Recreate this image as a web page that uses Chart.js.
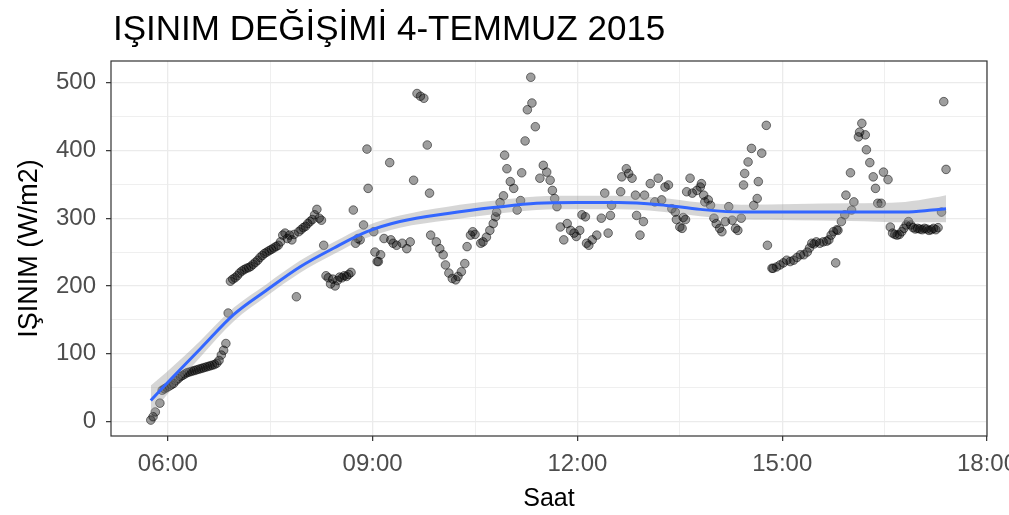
<!DOCTYPE html>
<html lang="tr">
<head>
<meta charset="UTF-8">
<title>IŞINIM DEĞİŞİMİ 4-TEMMUZ 2015</title>
<script src="https://cdn.jsdelivr.net/npm/chart.js"></script>
<style>
  html, body { margin: 0; padding: 0; background: #fff; }
</style>
</head>
<body>
<canvas id="chart" width="1009" height="515"></canvas>
<script>
// measured points (time of day, W/m2)
const obsTimes = [
  '05:45','05:47','05:49','05:53','05:55','05:57','05:59','06:01','06:03','06:05',
  '06:07','06:09','06:11','06:13','06:15','06:17','06:19','06:21','06:23','06:25',
  '06:27','06:29','06:31','06:33','06:35','06:37','06:39','06:41','06:43','06:45',
  '06:47','06:49','06:51','06:53','06:55','06:57','06:59','07:01','07:03','07:05',
  '07:07','07:09','07:11','07:13','07:15','07:17','07:19','07:21','07:23','07:25',
  '07:27','07:29','07:31','07:33','07:35','07:37','07:39','07:41','07:43','07:45',
  '07:47','07:49','07:51','07:53','07:55','07:57','07:59','08:01','08:03','08:05',
  '08:07','08:09','08:11','08:13','08:15','08:17','08:19','08:21','08:23','08:25',
  '08:27','08:29','08:31','08:33','08:35','08:37','08:39','08:41','08:43','08:45',
  '08:47','08:49','08:52','08:55','08:56','09:01','09:02','09:04','09:05','09:07',
  '09:10','09:15','09:16','09:18','09:21','09:26','09:30','09:33','09:36','09:39',
  '09:42','09:45','09:48','09:50','09:51','09:56','09:59','10:02','10:04','10:07',
  '10:10','10:13','10:15','10:18','10:21','10:23','10:26','10:28','10:30','10:35',
  '10:37','10:40','10:43','10:46','10:48','10:49','10:52','10:55','10:56','10:58',
  '11:01','11:04','11:07','11:10','11:11','11:14','11:16','11:19','11:20','11:23',
  '11:27','11:30','11:33','11:36','11:38','11:40','11:42','11:45','11:48','11:51',
  '11:54','11:57','11:59','12:02','12:04','12:07','12:08','12:10','12:13','12:17',
  '12:21','12:24','12:27','12:29','12:30','12:38','12:39','12:43','12:45','12:48',
  '12:51','12:52','12:55','12:58','12:59','13:04','13:08','13:11','13:14','13:17',
  '13:20','13:23','13:26','13:27','13:30','13:32','13:33','13:35','13:36','13:39',
  '13:41','13:45','13:48','13:49','13:51','13:52','13:55','13:57','14:00','14:02',
  '14:05','14:07','14:10','14:13','14:16','14:19','14:21','14:24','14:26','14:27',
  '14:30','14:33','14:35','14:38','14:39','14:42','14:46','14:47','14:51','14:52',
  '14:55','14:58','15:01','15:04','15:07','15:10','15:13','15:16','15:19','15:22',
  '15:24','15:26','15:28','15:30','15:33','15:36','15:39','15:41','15:43','15:45',
  '15:47','15:48','15:49','15:52','15:55','15:56','16:00','16:01','16:03','16:07',
  '16:08','16:10','16:13','16:14','16:17','16:20','16:22','16:24','16:27','16:29',
  '16:33','16:35','16:37','16:39','16:41','16:43','16:45','16:47','16:49','16:51',
  '16:53','16:55','16:57','16:59','17:01','17:03','17:05','17:07','17:09','17:11',
  '17:13','17:15','17:17','17:20','17:22','17:24'
];
const obsValues = [
  2, 7, 14, 27, 46, 48, 50, 52, 54, 56,
  60, 63, 66, 68, 70, 72, 73, 74, 75, 76,
  77, 78, 79, 80, 81, 82, 83, 84, 86, 90,
  98, 105, 115, 160, 207, 210, 212, 215, 219, 222,
  224, 226, 227, 229, 232, 235, 238, 242, 245, 248,
  250, 252, 254, 256, 258, 260, 265, 275, 278, 270,
  275, 268, 276, 184, 280, 283, 286, 288, 292, 295,
  298, 305, 313, 300, 297, 260, 215, 212, 203, 210,
  200, 208, 213, 212, 215, 214, 217, 220, 312, 263,
  270, 268, 290, 402, 344, 280, 250, 236, 236, 246,
  270, 382, 268, 263, 260, 263, 255, 265, 356, 484,
  480, 477, 408, 337, 275, 265, 255, 246, 231, 219,
  211, 209, 214, 221, 233, 258, 275, 280, 276, 263,
  265, 272, 282, 292, 302, 309, 323, 333, 393, 373,
  354, 344, 312, 326, 367, 414, 460, 508, 470, 435,
  359, 378, 368, 356, 341, 329, 317, 287, 268, 292,
  282, 278, 273, 282, 305, 302, 263, 260, 268, 275,
  300, 337, 278, 304, 319, 339, 361, 373, 366, 359,
  334, 304, 275, 295, 334, 351, 324, 359, 327, 346,
  349, 314, 309, 298, 287, 285, 301, 298, 339, 359,
  337, 341, 346, 351, 334, 324, 327, 319, 300, 292,
  285, 280, 295, 317, 297, 285, 282, 300, 349, 366,
  383, 403, 319, 329, 354, 396, 437, 260, 226, 226,
  228, 231, 234, 238, 236, 238, 242, 246, 246, 250,
  256, 263, 262, 265, 263, 265, 266, 268, 275, 280,
  234, 283, 282, 295, 305, 334, 367, 312, 324, 420,
  427, 440, 423, 401, 382, 361, 344, 322, 322, 368,
  357, 287, 278, 276, 275, 276, 280, 285, 290, 295,
  290, 286, 284, 285, 284, 283, 285, 284, 282, 283,
  285, 283, 286, 309, 472, 372
];

// loess fit and its confidence band
const fitTimes = ['05:45','05:59','06:29','06:58','07:27','07:56','08:26','08:55','09:24','10:06',
                  '10:48','11:24','12:00','12:36','13:12','13:48','14:24','15:12','16:00','16:48','17:12','17:24'];
const fitValues = [31, 56, 108, 158, 194, 228, 256, 280, 295, 307, 316, 322, 323, 323, 320, 313, 309, 309, 309, 309, 312, 314];
const fitLow    = [9, 39, 96, 148, 185, 219, 247, 271, 286, 297, 306, 312, 313, 313, 310, 303, 298, 297, 296, 294, 294, 294];
const fitHigh   = [53, 73, 120, 168, 203, 237, 265, 289, 304, 317, 326, 332, 333, 333, 330, 323, 320, 321, 322, 324, 330, 334];

const xTicks = [6, 7.5, 9, 10.5, 12, 13.5, 15, 16.5, 18];
const yTicks = [0, 50, 100, 150, 200, 250, 300, 350, 400, 450, 500];

function toHours(s) {
  const p = s.split(':').map(Number);
  return p[0] + p[1] / 60;
}
function pairs(times, vals) {
  return times.map((t, i) => ({ x: toHours(t), y: vals[i] }));
}

const FONT = '"Liberation Sans", Arial, sans-serif';
Chart.defaults.font.family = FONT;

const frame = {
  id: 'frame',
  afterDatasetsDraw(chart) {
    const a = chart.chartArea, ctx = chart.ctx;
    ctx.save();
    ctx.strokeStyle = '#333333';
    ctx.lineWidth = 1.2;
    ctx.strokeRect(a.left, a.top, a.right - a.left, a.bottom - a.top);
    ctx.restore();
  },
  afterDraw(chart) {
    const a = chart.chartArea, ctx = chart.ctx;
    ctx.save();
    ctx.fillStyle = '#000';
    ctx.textBaseline = 'alphabetic';
    ctx.font = '35px ' + FONT;
    ctx.textAlign = 'left';
    ctx.fillText('IŞINIM DEĞİŞİMİ 4-TEMMUZ 2015', 113, 40);
    ctx.font = '25px ' + FONT;
    ctx.textAlign = 'center';
    ctx.fillText('Saat', (a.left + a.right) / 2, 506);
    ctx.font = '27px ' + FONT;
    ctx.translate(37, (a.top + a.bottom) / 2);
    ctx.rotate(-Math.PI / 2);
    ctx.fillText('IŞINIM (W/m2)', 0, 0);
    ctx.restore();
  }
};

new Chart(document.getElementById('chart').getContext('2d'), {
  type: 'scatter',
  data: {
    datasets: [
      {
        type: 'line',
        data: pairs(fitTimes, fitValues),
        borderColor: '#3366FF',
        borderWidth: 3,
        pointRadius: 0,
        fill: false,
        cubicInterpolationMode: 'monotone',
        order: 0
      },
      {
        type: 'line',
        data: pairs(fitTimes, fitLow),
        borderWidth: 0,
        borderColor: 'rgba(0,0,0,0)',
        pointRadius: 0,
        fill: false,
        cubicInterpolationMode: 'monotone',
        order: 1
      },
      {
        type: 'line',
        data: pairs(fitTimes, fitHigh),
        borderWidth: 0,
        borderColor: 'rgba(0,0,0,0)',
        backgroundColor: 'rgba(153,153,153,0.4)',
        pointRadius: 0,
        fill: 1,
        cubicInterpolationMode: 'monotone',
        order: 1
      },
      {
        data: pairs(obsTimes, obsValues),
        backgroundColor: 'rgba(0,0,0,0.38)',
        borderColor: 'rgba(0,0,0,0.5)',
        borderWidth: 1,
        pointRadius: 4.3,
        order: 2
      }
    ]
  },
  options: {
    responsive: false,
    animation: false,
    devicePixelRatio: 1,
    layout: { autoPadding: false, padding: { top: 61, right: 22, bottom: 0, left: 0 } },
    plugins: { legend: { display: false }, tooltip: { enabled: false }, title: { display: false } },
    scales: {
      x: {
        type: 'linear',
        min: 5.167,
        max: 18.0,
        afterFit(s) { s.height = 79; s.paddingLeft = 0; s.paddingRight = 0; },
        afterBuildTicks(s) { s.ticks = xTicks.map(v => ({ value: v })); },
        border: { display: false },
        grid: {
          color: '#ebebeb',
          lineWidth: c => (c.tick && c.tick.value % 3 === 0 ? 1.3 : 0.8),
          tickLength: 5,
          tickWidth: 1.2,
          tickColor: c => (c.tick && c.tick.value % 3 === 0 ? '#333333' : 'rgba(0,0,0,0)')
        },
        ticks: {
          autoSkip: false,
          maxRotation: 0,
          padding: 9,
          color: '#4d4d4d',
          font: { size: 24 },
          callback: v => (v % 3 === 0 ? String(v).padStart(2, '0') + ':00' : '')
        }
      },
      y: {
        type: 'linear',
        min: -21.5,
        max: 532,
        afterFit(s) { s.width = 111; s.paddingTop = 0; s.paddingBottom = 0; },
        afterBuildTicks(s) { s.ticks = yTicks.map(v => ({ value: v })); },
        border: { display: false },
        grid: {
          color: '#ebebeb',
          lineWidth: c => (c.tick && c.tick.value % 100 === 0 ? 1.3 : 0.8),
          tickLength: 5,
          tickWidth: 1.2,
          tickColor: c => (c.tick && c.tick.value % 100 === 0 ? '#333333' : 'rgba(0,0,0,0)')
        },
        ticks: {
          autoSkip: false,
          padding: 10,
          color: '#4d4d4d',
          font: { size: 24 },
          callback: v => (v % 100 === 0 ? String(v) : '')
        }
      }
    }
  },
  plugins: [frame]
});
</script>
</body>
</html>
